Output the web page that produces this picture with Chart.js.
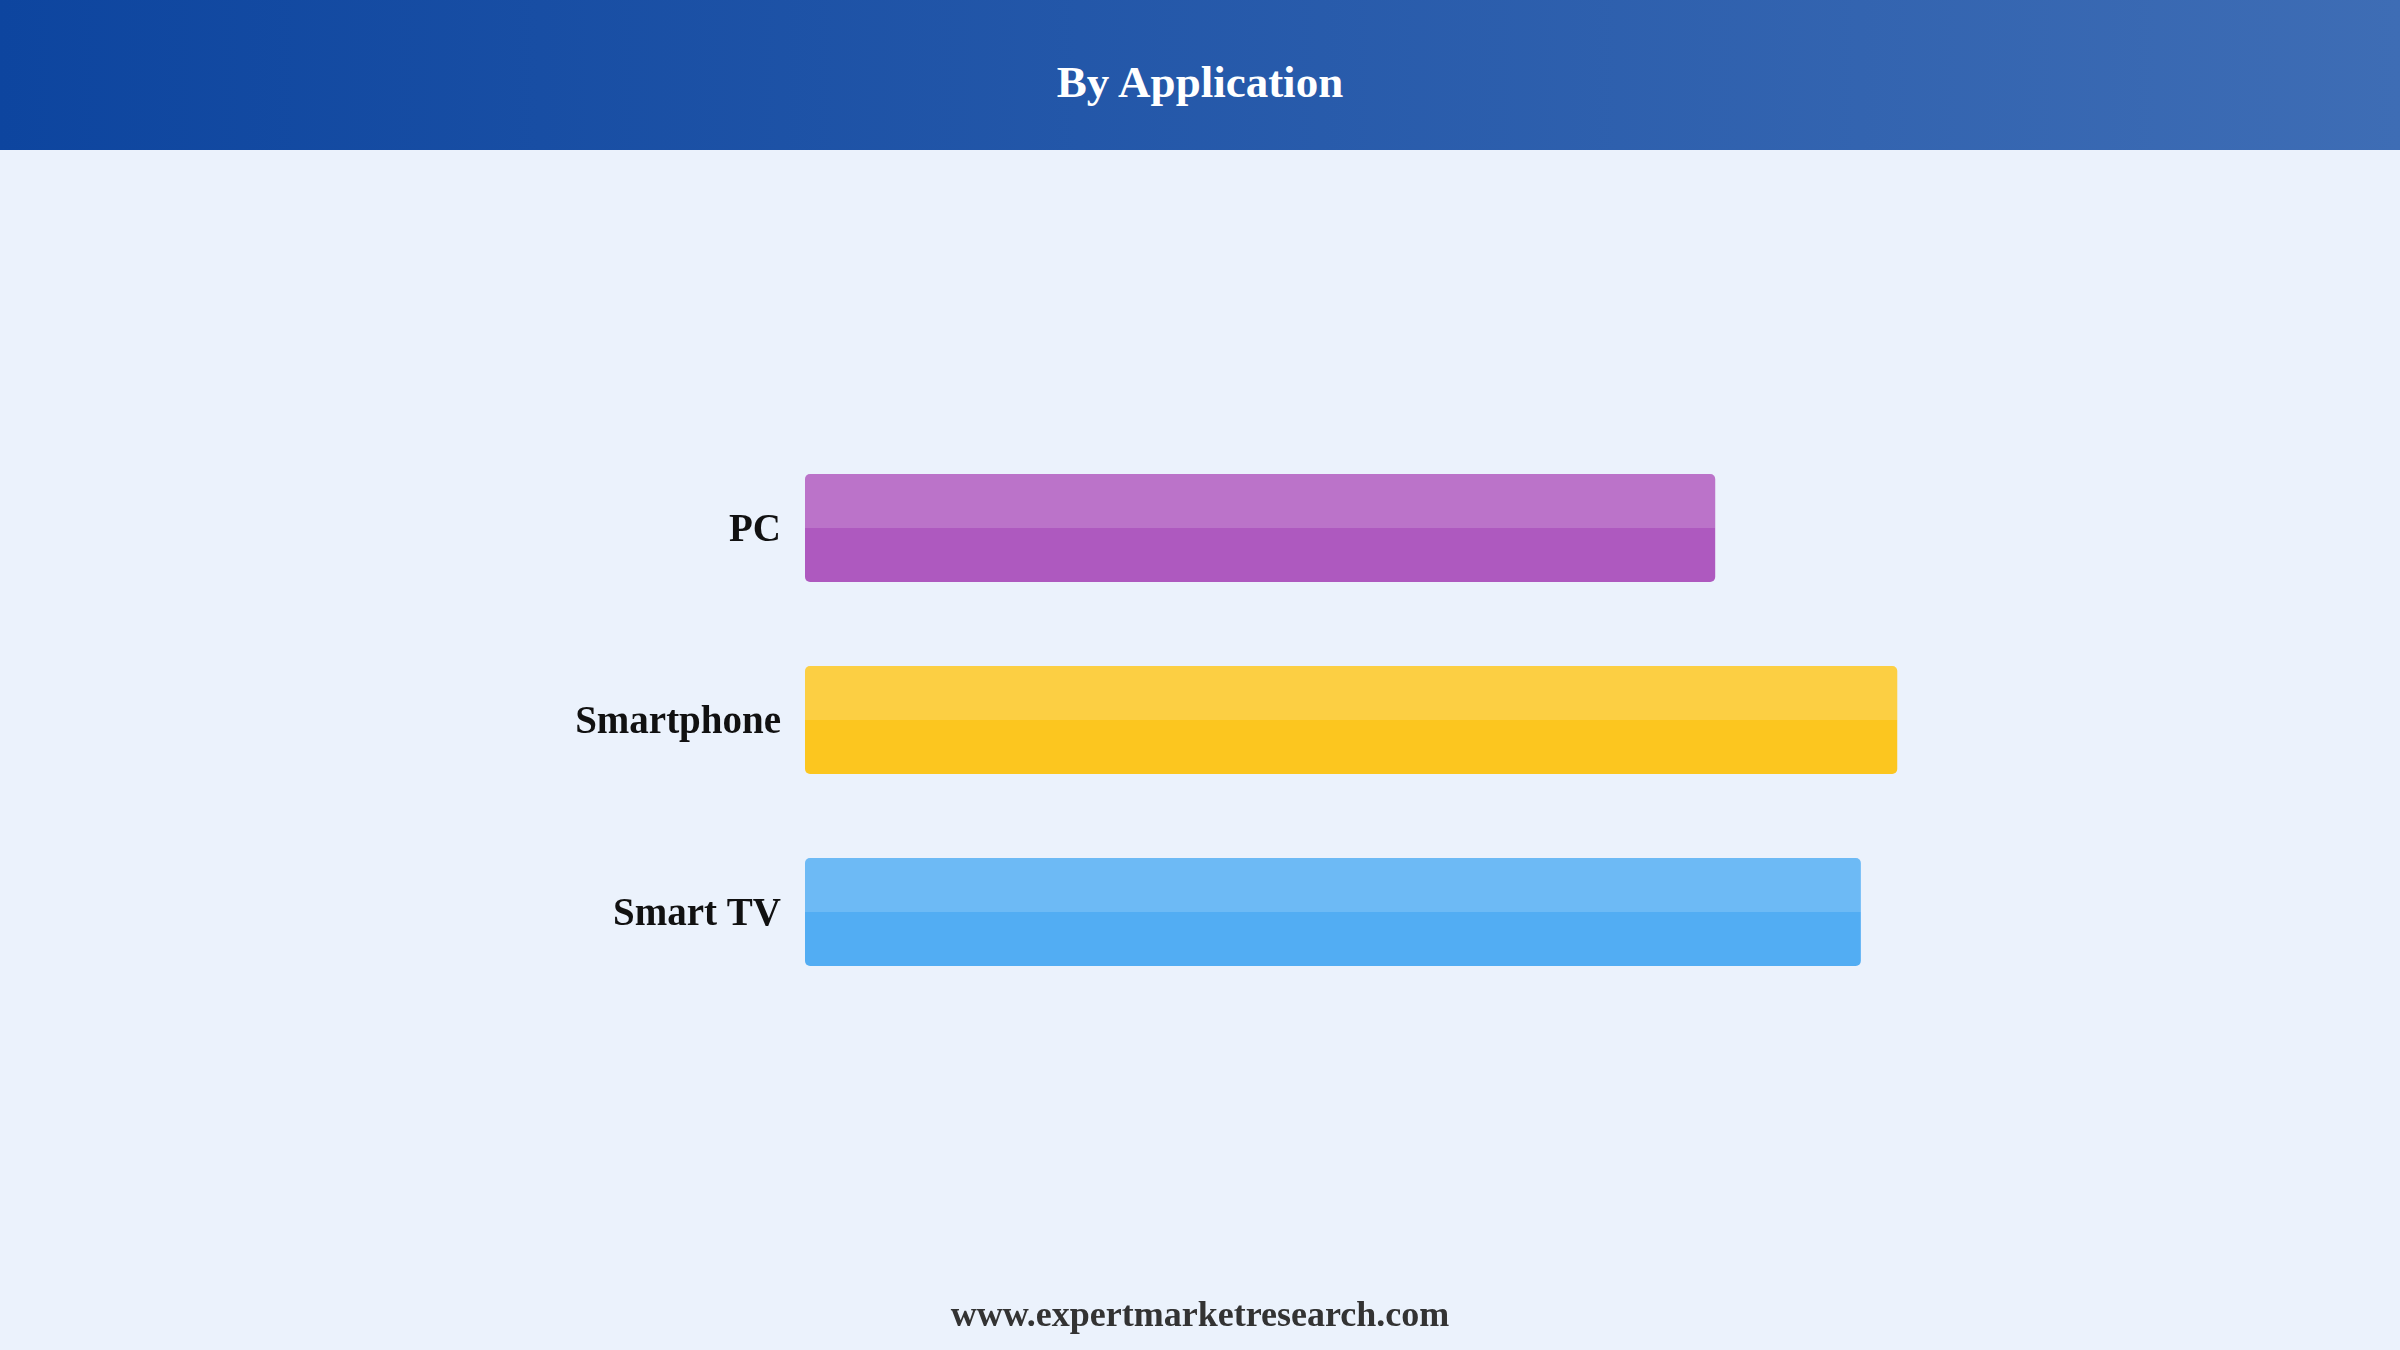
<!DOCTYPE html>
<html>
<head>
<meta charset="utf-8">
<script src="https://cdn.jsdelivr.net/npm/chart.js@4"></script>
<style>
  html, body { margin: 0; padding: 0; width: 2400px; height: 1350px; overflow: hidden; background: #EBF2FC; }
  #header { position: absolute; left: 0; top: 0; width: 2400px; height: 150px;
    background: linear-gradient(to right, #0D459F, #3E6DB5); }
  #title { position: absolute; left: 0; top: 2px; width: 2400px; height: 150px;
    text-align: center; color: #fff; font-family: 'Liberation Serif', 'Times New Roman', serif;
    font-weight: bold; font-size: 45px; line-height: 160px; }
  #footer { position: absolute; left: 0; top: 1293px; width: 2400px; text-align: center;
    font-family: 'Liberation Serif', 'Times New Roman', serif; font-weight: bold; font-size: 36px; color: #333; }
  #wrap { position: absolute; left: 0; top: 0; width: 2400px; height: 1350px; }
</style>
</head>
<body>
<div id="header"></div>
<div id="title">By Application</div>
<div id="wrap"><canvas id="c" width="2400" height="1350"></canvas></div>
<div id="footer">www.expertmarketresearch.com</div>
<script>
const categories = ['PC', 'Smartphone', 'Smart TV'];
const values = [30, 36, 34.8];
const barColors = ['#AE59BF', '#FCC61F', '#52ADF3'];

const twoTone = {
  id: 'twoTone',
  afterDatasetsDraw(chart) {
    const ctx = chart.ctx;
    const meta = chart.getDatasetMeta(0);
    ctx.save();
    ctx.fillStyle = 'rgba(255,255,255,0.16)';
    meta.data.forEach(el => {
      const p = el.getProps(['x', 'y', 'base', 'height'], true);
      const left = Math.min(p.base, p.x), right = Math.max(p.base, p.x);
      const top = p.y - p.height / 2;
      ctx.beginPath();
      ctx.roundRect(left, top, right - left, p.height / 2, [5, 5, 0, 0]);
      ctx.fill();
    });
    ctx.restore();
  }
};

new Chart(document.getElementById('c'), {
  type: 'bar',
  data: {
    labels: categories,
    datasets: [{
      data: values,
      backgroundColor: barColors,
      borderRadius: 5,
      borderSkipped: false,
      barPercentage: 0.5625,
      categoryPercentage: 1.0
    }]
  },
  options: {
    indexAxis: 'y',
    responsive: false,
    animation: false,
    devicePixelRatio: 1,
    layout: { padding: { top: 432, bottom: 342, left: 0, right: 78 } },
    plugins: { legend: { display: false }, tooltip: { enabled: false }, title: { display: false } },
    scales: {
      x: { display: false, min: 0, max: 50 },
      y: {
        grid: { display: false, drawTicks: false },
        border: { display: false },
        afterFit(s) { s.width = 805; },
        ticks: {
          padding: 24,
          labelOffset: 3,
          color: '#111',
          font: { family: "'Liberation Serif', 'Times New Roman', serif", weight: 'bold', size: 39 }
        }
      }
    }
  },
  plugins: [twoTone]
});
</script>
</body>
</html>
